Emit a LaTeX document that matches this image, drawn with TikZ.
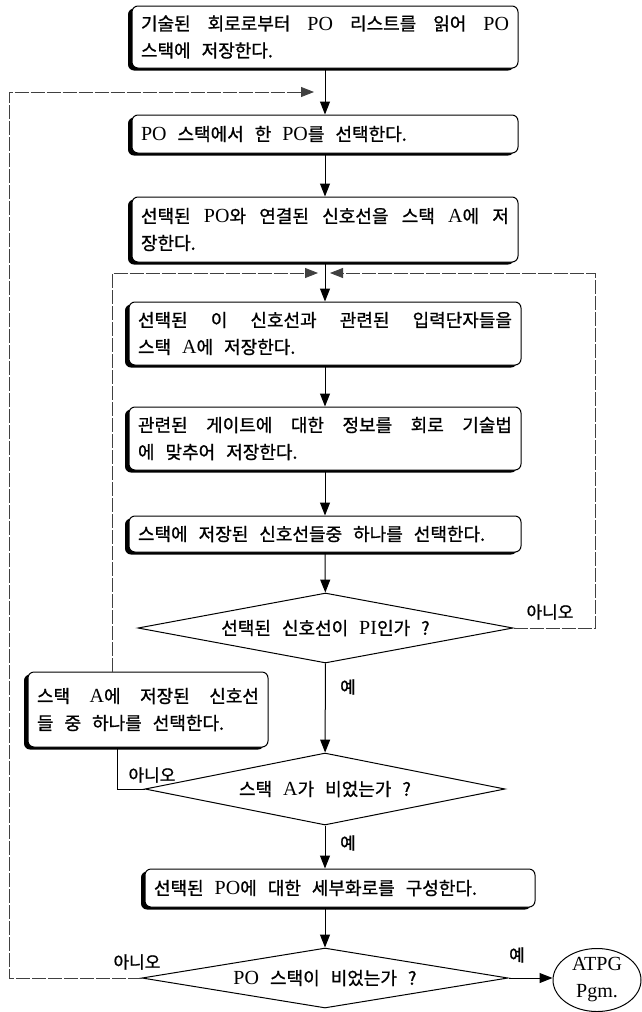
\documentclass[tikz,border=0pt]{standalone}
\usepackage{fontspec}
\setmainfont{Liberation Serif}
\newfontfamily\kr[FakeBold=1.0]{Noto Sans CJK KR}
\usetikzlibrary{arrows.meta,shapes.geometric}
\newcommand\K[1]{{\kr\fontsize{18}{27}\selectfont #1}}
\tikzset{
  txt/.style={font=\fontsize{20}{27}\selectfont,
    execute at begin node={\spaceskip=11pt plus 14pt minus 2pt\relax}},
  pbox/.style={txt, draw, line width=1pt, rounded corners=6pt, fill=white,
    preaction={fill=black, transform canvas={xshift=-4pt, yshift=-2.5pt}},
    inner xsep=9pt, inner ysep=0pt, align=justify},
  lbox/.style={pbox, align=left},
  dia/.style={txt, draw, line width=1pt, shape=diamond, inner sep=0pt, aspect=5, align=center},
  arr/.style={line width=1pt, -{Triangle[length=13pt,width=10pt]}},
  flow/.style={line width=0.8pt},
  loopline/.style={line width=0.8pt, black!75, dash pattern=on 14pt off 2pt},
  loopar/.style={loopline, -{Triangle[length=13pt,width=10pt]}},
  lab/.style={font=\kr\fontsize{17}{18}\selectfont, inner sep=0pt}
}
\begin{document}
\begin{tikzpicture}[x=1pt,y=-1pt]
\useasboundingbox (0,0) rectangle (642,1012);

% boxes
\node[pbox, text width=368pt, minimum height=62pt] (b1) at (325,37)
  {\K{기술된 회로로부터} PO \K{리스트를 읽어} PO\linebreak\K{스택에 저장한다.}};
\node[lbox, text width=368pt, minimum height=38pt] (b2) at (325,134)
  {PO \K{스택에서 한} PO\K{를 선택한다.}};
\node[pbox, text width=368pt, minimum height=65pt] (b3) at (325,229.5)
  {\K{선택된} PO\K{와 연결된 신호선을 스택} A\K{에 저}\linebreak\K{장한다.}};
\node[pbox, text width=374pt, minimum height=63pt] (b4) at (325,333.5)
  {\K{선택된 이 신호선과 관련된 입력단자들을}\linebreak\K{스택} A\K{에 저장한다.}};
\node[pbox, text width=374pt, minimum height=63pt] (b5) at (325,438.5)
  {\K{관련된 게이트에 대한 정보를 회로 기술법}\linebreak\K{에 맞추어 저장한다.}};
\node[lbox, text width=374pt, minimum height=36pt] (b6) at (325,534)
  {\K{스택에 저장된 신호선들중 하나를 선택한다.}};
\node[dia, minimum width=375pt, minimum height=70pt] (d1) at (325.5,628)
  {\K{선택된 신호선이} PI\K{인가 ?}};
\node[pbox, text width=222pt, minimum height=75pt] (lb) at (148,709.5)
  {\K{스택} A\K{에 저장된 신호선}\linebreak\K{들 중 하나를 선택한다.}};
\node[dia, minimum width=360pt, minimum height=72pt] (d2) at (325,789)
  {\K{스택} A\K{가 비었는가 ?}};
\node[lbox, text width=372pt, minimum height=38pt] (b7) at (340,888)
  {\K{선택된} PO\K{에 대한 세부화로를 구성한다.}};
\node[dia, minimum width=366pt, minimum height=60pt] (d3) at (325,978)
  {PO \K{스택이 비었는가 ?}};
\node[txt, draw, line width=1pt, shape=ellipse, minimum width=88pt, minimum height=58pt,
  inner sep=0pt, align=center] (ell) at (597,980) {ATPG\\Pgm.};

% junction coordinates
\coordinate (j1) at (325,92);
\coordinate (j2) at (325,273);
\coordinate (c1) at (9,92);
\coordinate (c2) at (112,273);
\coordinate (c3) at (595,273);
\coordinate (c5) at (117,789);

% main flow
\draw[arr] (b1) -- (b2);
\draw[arr] (b2) -- (b3);
\draw[arr] (b3) -- (b4);
\draw[arr] (b4) -- (b5);
\draw[arr] (b5) -- (b6);
\draw[arr] (b6) -- (d1);
\draw[arr] (d1) -- (d2);
\draw[arr] (d2.south) -- (d2.south |- b7.north);
\draw[arr] (d3.north |- b7.south) -- (d3.north);
\draw[arr] (d3.east) -- (d3.east -| ell.west);

% loops
\draw[loopar] (d3.west) -| (c1) -- ([xshift=-11pt]j1);
\draw[loopar] (lb.north -| c2) -- (c2) -- ([xshift=-7pt]j2);
\draw[loopar] (d1.east) -| (c3) -- ([xshift=5pt]j2);
\draw[flow] (d2.west) -- (c5) -- (c5 |- lb.south);

% labels
\node[lab] (l1) at (550,612) {아니오};
\node[lab] (l2) at (348,687) {예};
\node[lab] (l3) at (152,775) {아니오};
\node[lab] (l4) at (348,843) {예};
\node[lab] (l5) at (137,962) {아니오};
\node[lab] (l6) at (517,955) {예};
\end{tikzpicture}
\end{document}
